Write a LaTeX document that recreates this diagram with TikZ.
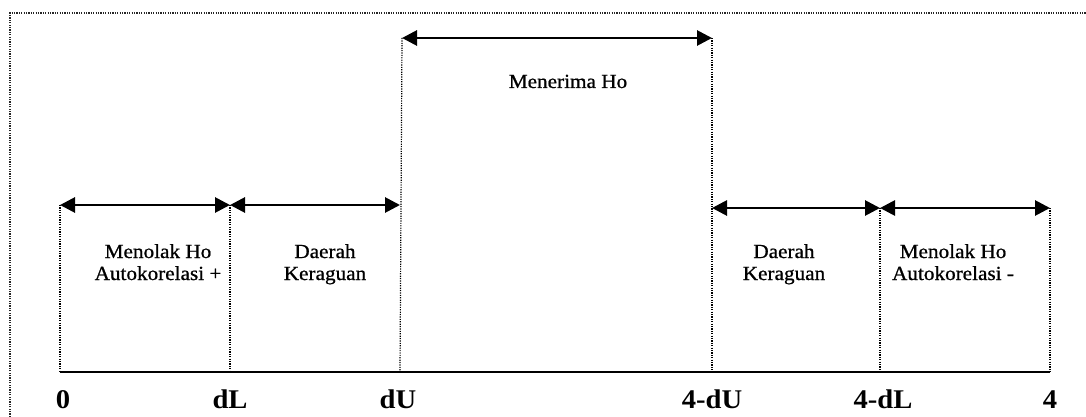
\documentclass[tikz,border=0pt]{standalone}
\usepackage{fontspec}
\setmainfont{Liberation Serif}[FakeStretch=1.06]
\newfontfamily\regionfont{Liberation Serif}[FakeStretch=1.06, FakeBold=0.8]
\usetikzlibrary{arrows.meta}
\tikzset{
  frameline/.style={dash pattern=on 1.2pt off 1.2pt, line width=1.3pt, black!85},
  guide/.style={dash pattern=on 1.2pt off 1.2pt, line width=1.2pt},
  axisline/.style={line width=2.8pt, line cap=butt},
  rangearrow/.style={line width=2.8pt, {Triangle[length=15pt,width=15pt]}-{Triangle[length=15pt,width=15pt]}},
  regiontext/.style={font=\regionfont\fontsize{20}{22}\selectfont, align=center, inner sep=0pt, anchor=base},
  ticklabel/.style={font=\fontsize{27}{27}\selectfont\bfseries, inner sep=0pt, anchor=base}
}
\begin{document}
\begin{tikzpicture}[x=1pt,y=-1pt]
\useasboundingbox (0,0) rectangle (1086,417);
% outer frame
\coordinate (fbl) at (10,417);
\coordinate (ftl) at (10,13);
\coordinate (ftr) at (1086,13);
\draw[frameline] (fbl) -- (ftl) -- (ftr);
% axis points
\coordinate (a0) at (60,372);
\coordinate (adL) at (230,372);
\coordinate (adU) at (400,372);
\coordinate (a4dU) at (712,372);
\coordinate (a4dL) at (880,372);
\coordinate (a4) at (1050,372);
% arrow points
\coordinate (t0) at (60,205);
\coordinate (tdL) at (230,205);
\coordinate (tdU) at (400,205);
\coordinate (udU) at (402,38);
\coordinate (u4dU) at (712,38);
\coordinate (t4dU) at (712,208);
\coordinate (t4dL) at (880,208);
\coordinate (t4) at (1050,208);
% guide lines
\draw[guide] (t0) -- (a0);
\draw[guide] (tdL) -- (adL);
\draw[guide] (udU) -- (adU);
\draw[guide] (u4dU) -- (a4dU);
\draw[guide] (t4dL) -- (a4dL);
\draw[guide] (t4) -- (a4);
% axis
\draw[axisline] (a0) -- (a4);
% arrows
\draw[rangearrow] (t0) -- (tdL);
\draw[rangearrow] (tdL) -- (tdU);
\draw[rangearrow] (udU) -- (u4dU);
\draw[rangearrow] (t4dU) -- (t4dL);
\draw[rangearrow] (t4dL) -- (t4);
% region texts
\node[regiontext] (r1) at (158,280) {Menolak Ho\\Autokorelasi +};
\node[regiontext] (r2) at (325,280) {Daerah\\Keraguan};
\node[regiontext] (r3) at (568,88) {Menerima Ho};
\node[regiontext] (r4) at (784,280) {Daerah\\Keraguan};
\node[regiontext] (r5) at (953,280) {Menolak Ho\\Autokorelasi -};
% tick labels
\node[ticklabel] (l0) at (63,408) {0};
\node[ticklabel] (ldL) at (230,408) {dL};
\node[ticklabel] (ldU) at (398,408) {dU};
\node[ticklabel] (l4dU) at (712,408) {4-dU};
\node[ticklabel] (l4dL) at (883,408) {4-dL};
\node[ticklabel] (l4) at (1050,408) {4};
\end{tikzpicture}
\end{document}
